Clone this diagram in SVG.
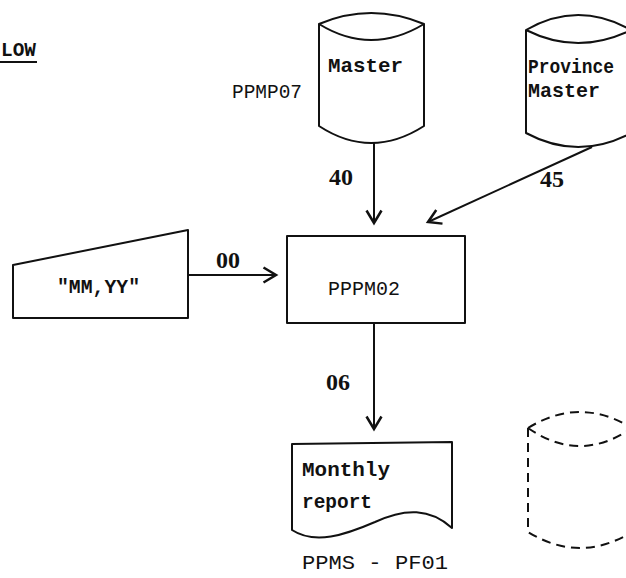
<svg xmlns="http://www.w3.org/2000/svg" width="626" height="578" viewBox="0 0 626 578">
<style>
.shape{fill:#fff;stroke:#111;stroke-width:2;stroke-linejoin:round}
.dash{fill:none;stroke:#111;stroke-width:2;stroke-dasharray:9 6}
.conn{fill:none;stroke:#111;stroke-width:2}
.tw{font-family:"Liberation Mono","Courier New",monospace;font-weight:bold;font-size:21px;fill:#111}
.twn{font-family:"Liberation Mono","Courier New",monospace;font-size:21px;fill:#111}
.num{font-family:"Liberation Serif","Times New Roman",serif;font-weight:bold;font-size:24px;fill:#111}
</style>
<defs>
<marker id="arr" markerUnits="userSpaceOnUse" markerWidth="20" markerHeight="20" refX="0" refY="0" viewBox="-12 -8 14 16" orient="auto" overflow="visible">
<path d="M-10,-6 L0,0 L-10,6" fill="none" stroke="#111" stroke-width="2"/>
</marker>
</defs>
<rect width="626" height="578" fill="#fff"/>

<g id="title">
<text class="twn" x="1" y="56" font-size="16" font-weight="bold" textLength="35" lengthAdjust="spacingAndGlyphs">LOW</text>
<line x1="0" y1="62" x2="37" y2="62" stroke="#111" stroke-width="2"/>
</g>

<g id="master">
<path class="shape" d="M319,24 Q371,2 424,24 L424,126 Q371,160 319,126 Z"/>
<path class="conn" d="M319,24 Q371,56 424,24"/>
<text class="tw" x="328" y="72" textLength="75" lengthAdjust="spacingAndGlyphs">Master</text>
<text class="twn" x="232" y="98" textLength="70" lengthAdjust="spacingAndGlyphs">PPMP07</text>
</g>

<g id="province-master">
<path class="shape" d="M526,30 Q578,0 631,30 L631,133 Q578,161 526,133 Z"/>
<path class="conn" d="M526,30 Q578,56 631,30"/>
<text class="tw" x="528" y="73" font-size="18" textLength="86" lengthAdjust="spacingAndGlyphs">Province</text>
<text class="tw" x="528" y="97" textLength="72" lengthAdjust="spacingAndGlyphs">Master</text>
</g>

<g id="input">
<path class="shape" d="M13,265 L188,230 L188,318 L13,318 Z"/>
<text class="tw" x="57" y="293" textLength="83" lengthAdjust="spacingAndGlyphs">"MM,YY"</text>
</g>

<g id="pppm02">
<rect class="shape" x="287" y="236" width="178" height="87"/>
<text class="twn" x="328" y="295" textLength="72" lengthAdjust="spacingAndGlyphs">PPPM02</text>
</g>

<g id="monthly-report">
<path class="shape" d="M292,444 L452,442 L452,528 C430,508 405,508 375,522 C345,535 315,545 292,530 Z"/>
<text class="tw" x="302" y="476" textLength="88" lengthAdjust="spacingAndGlyphs">Monthly</text>
<text class="tw" x="302" y="508" textLength="70" lengthAdjust="spacingAndGlyphs">report</text>
<text class="twn" x="302" y="569" textLength="146" lengthAdjust="spacingAndGlyphs">PPMS - PF01</text>
</g>

<g id="store">
<path class="dash" d="M528,428 Q580,396 632,428 M528,428 Q580,464 632,428 M528,428 L528,532 Q580,564 632,532"/>
</g>

<g id="connectors">
<line class="conn" x1="374" y1="143" x2="374" y2="223" marker-end="url(#arr)"/>
<line class="conn" x1="592" y1="147" x2="428" y2="222" marker-end="url(#arr)"/>
<line class="conn" x1="188" y1="275" x2="276" y2="275" marker-end="url(#arr)"/>
<line class="conn" x1="374" y1="323" x2="374" y2="429" marker-end="url(#arr)"/>
<text class="num" x="329" y="185">40</text>
<text class="num" x="540" y="187">45</text>
<text class="num" x="216" y="268" font-size="21">00</text>
<text class="num" x="326" y="390">06</text>
</g>
</svg>
